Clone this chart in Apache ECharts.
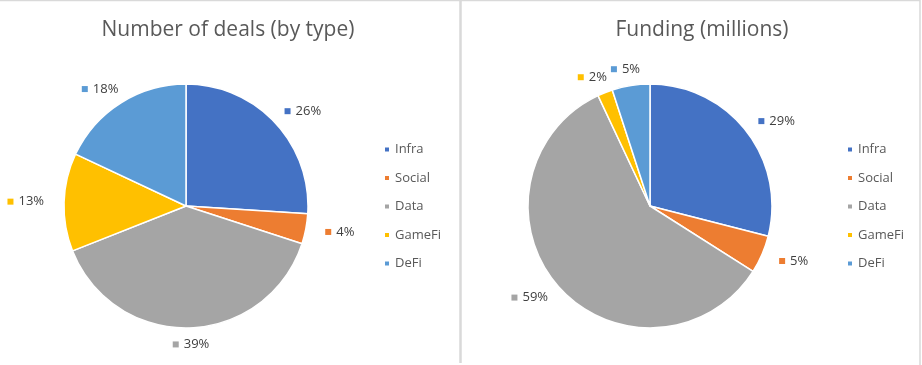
<!DOCTYPE html>
<html><head><meta charset="utf-8">
<script src="https://cdn.jsdelivr.net/npm/echarts@6/dist/echarts.min.js"></script>
<style>html,body{margin:0;padding:0;background:#fff}#c{width:922px;height:365px}</style>
</head><body><div id="c"></div>
<script>
const categories = ['Infra', 'Social', 'Data', 'GameFi', 'DeFi'];
const dealsValues = [26, 4, 39, 13, 18];
const fundingValues = [29, 5, 59, 2, 5];
const titles = ['Number of deals (by type)', 'Funding (millions)'];
const colors = ['#4472C4', '#ED7D31', '#A5A5A5', '#FFC000', '#5B9BD5'];

const FONT = '"Open Sans", "Noto Sans", sans-serif';
const rich = {};
colors.forEach((c, i) => { rich['m' + i] = { width: 6, height: 6, backgroundColor: c }; });
rich.t = { fontSize: 13, color: '#404040', fontFamily: FONT, padding: [0, 0, 0, 5] };

const GAP = 10, PADX = 10;
let chart;

function excelLikeLayout(params) {
  const data = chart.getModel().getSeriesByIndex(params.seriesIndex).getData();
  const lay = data.getItemLayout(params.dataIndex);
  const mid = (lay.startAngle + lay.endAngle) / 2;
  const ux = Math.cos(mid), uy = Math.sin(mid);
  const w = params.labelRect.width, h = params.labelRect.height;
  const R = lay.r + GAP;
  return {
    x: lay.cx + R * ux + ux * (w / 2 + PADX),
    y: lay.cy + R * uy + uy * (h / 2),
    align: 'center',
    verticalAlign: 'middle'
  };
}

function pieSeries(vals, cx) {
  return {
    type: 'pie',
    center: [cx, 206],
    radius: 122,
    startAngle: 90,
    clockwise: true,
    avoidLabelOverlap: false,
    itemStyle: { borderColor: '#fff', borderWidth: 1.5 },
    label: {
      show: true, position: 'outside',
      formatter: p => '{m' + p.dataIndex + '|}{t|' + Math.round(p.percent) + '%}',
      rich: rich,
      distanceToLabelLine: 0
    },
    labelLayout: excelLikeLayout,
    labelLine: { show: false, length: 16, length2: 0 },
    emphasis: { disabled: true },
    data: categories.map((n, i) => ({ name: n, value: vals[i] }))
  };
}

function legend(left) {
  return {
    orient: 'vertical', left: left, top: 138,
    itemWidth: 6, itemHeight: 6, itemGap: 15.5, icon: 'rect',
    textStyle: { fontSize: 13, color: '#595959', fontFamily: FONT },
    data: categories
  };
}

chart = echarts.init(document.getElementById('c'));
chart.setOption({
  color: colors,
  animation: false,
  title: [
    { text: titles[0], left: 223, top: 15, textAlign: 'center',
      textStyle: { fontSize: 21, fontWeight: 'normal', color: '#595959', fontFamily: FONT } },
    { text: titles[1], left: 697, top: 15, textAlign: 'center',
      textStyle: { fontSize: 21, fontWeight: 'normal', color: '#595959', fontFamily: FONT } }
  ],
  legend: [legend(378), legend(841)],
  series: [pieSeries(dealsValues, 186), pieSeries(fundingValues, 650)],
  graphic: [
    { type: 'line', shape: { x1: 0, y1: 0.5, x2: 920, y2: 0.5 }, style: { stroke: '#d9d9d9', lineWidth: 1.5 } },
    { type: 'line', shape: { x1: 920, y1: 0, x2: 920, y2: 365 }, style: { stroke: '#d9d9d9', lineWidth: 1.5 } },
    { type: 'line', shape: { x1: 460.5, y1: 0, x2: 460.5, y2: 363 }, style: { stroke: '#d9d9d9', lineWidth: 2.5 } }
  ]
});
</script></body></html>
